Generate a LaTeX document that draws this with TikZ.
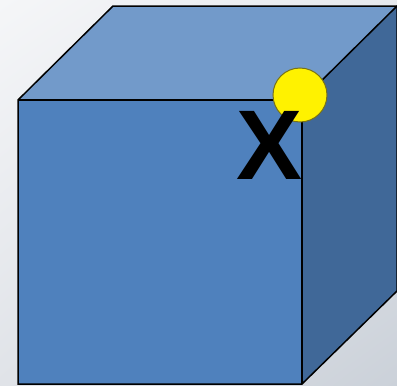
\documentclass[tikz,border=0pt]{standalone}
\usepackage{fontspec}
\usetikzlibrary{shadings}
\setmainfont{Liberation Sans}
\definecolor{bgUL}{HTML}{F5F6F8}
\definecolor{bgUR}{HTML}{E6E9ED}
\definecolor{bgLL}{HTML}{E0E3E8}
\definecolor{bgLR}{HTML}{CBD1D9}
\begin{document}
\begin{tikzpicture}[x=1pt,y=-1pt,
  edge/.style={draw=black,line width=1.5pt,line join=miter},
  dot/.style={circle,fill=yellow,draw=olive!80!black,line width=1pt,minimum size=54pt,inner sep=0pt},
  bigletter/.style={font=\bfseries\fontsize{99}{99}\selectfont,inner sep=0pt}]
\useasboundingbox (0,0) rectangle (397,386);
\shade[upper left=bgUL,upper right=bgUR,lower left=bgLL,lower right=bgLR] (0,0) rectangle (397,386);
\coordinate (A) at (18,100);
\coordinate (B) at (302,100);
\coordinate (C) at (302,384);
\coordinate (D) at (18,384);
\coordinate (E) at (113,6);
\coordinate (F) at (397,6);
\coordinate (G) at (397,291);
\fill[fill={rgb,255:red,114;green,154;blue,202}] (A) -- (E) -- (F) -- (B) -- cycle;
\fill[fill={rgb,255:red,64;green,104;blue,152}] (B) -- (F) -- (G) -- (C) -- cycle;
\fill[fill={rgb,255:red,79;green,129;blue,189}] (A) -- (B) -- (C) -- (D) -- cycle;
\draw[edge] (A) -- (E) -- (F) -- (G) -- (C) -- (D) -- cycle;
\draw[edge] (A) -- (B) -- (C);
\draw[edge] (B) -- (F);
\node[dot] (s) at (300,95) {};
\node[bigletter] (x) at (270,145) {X};
\end{tikzpicture}
\end{document}
